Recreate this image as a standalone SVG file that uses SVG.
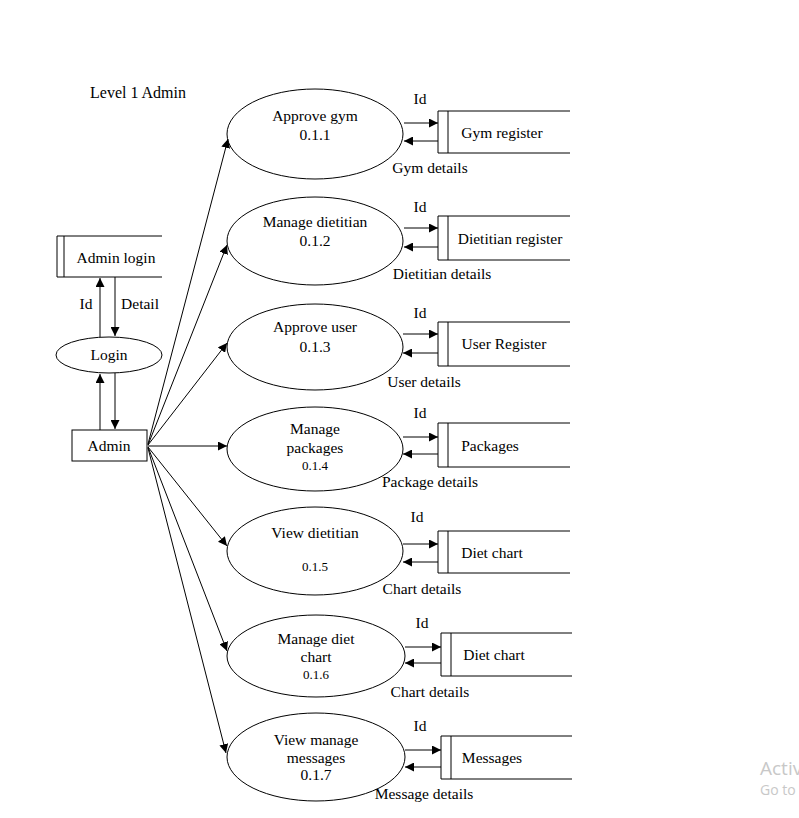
<svg xmlns="http://www.w3.org/2000/svg" width="799" height="818" viewBox="0 0 799 818">
<style>
text{font-family:"Liberation Serif","Times New Roman",serif;font-size:15.5px;fill:#000;text-anchor:middle}
.sm{font-size:13px}
.proc{fill:#fff;stroke:#000;stroke-width:1}
.st{fill:none;stroke:#000;stroke-width:1}
.c{stroke:#000;stroke-width:1;fill:none;marker-end:url(#ah)}
.wm{font-family:"Segoe UI","Open Sans","Noto Sans",sans-serif;fill:#c8c8c8;text-anchor:start}
</style>
<defs>
<marker id="ah" viewBox="0 0 10 10" refX="10" refY="5" markerWidth="9" markerHeight="9" markerUnits="userSpaceOnUse" orient="auto">
<path d="M0,0 L10,5 L0,10 z" fill="#000"/>
</marker>
</defs>
<rect width="799" height="818" fill="#fff"/>
<text x="138" y="98" style="font-size:16px">Level 1 Admin</text>

<g id="admin-login">
<path class="st" d="M162,236 H57 V277 H162 M64,236 V277"/>
<text x="116" y="263">Admin login</text>
</g>
<g id="login">
<ellipse class="proc" cx="109" cy="355" rx="53" ry="18"/>
<text x="109" y="360">Login</text>
</g>
<g id="admin">
<rect class="proc" x="72" y="430" width="75" height="31"/>
<text x="109" y="451">Admin</text>
</g>

<g id="p1">
<ellipse class="proc" cx="315" cy="134" rx="88" ry="45"/>
<text x="315" y="121">Approve gym</text>
<text x="315" y="140">0.1.1</text>
</g>
<g id="p2">
<ellipse class="proc" cx="315" cy="241" rx="88" ry="44"/>
<text x="315" y="227">Manage dietitian</text>
<text x="315" y="246">0.1.2</text>
</g>
<g id="p3">
<ellipse class="proc" cx="315" cy="347" rx="88" ry="43"/>
<text x="315" y="332">Approve user</text>
<text x="315" y="352">0.1.3</text>
</g>
<g id="p4">
<ellipse class="proc" cx="315" cy="449" rx="88" ry="42"/>
<text x="315" y="434">Manage</text>
<text x="315" y="453">packages</text>
<text class="sm" x="315" y="470">0.1.4</text>
</g>
<g id="p5">
<ellipse class="proc" cx="315" cy="551" rx="88" ry="44"/>
<text x="315" y="538">View dietitian</text>
<text class="sm" x="315" y="571">0.1.5</text>
</g>
<g id="p6">
<ellipse class="proc" cx="316" cy="656" rx="89" ry="41"/>
<text x="316" y="644">Manage diet</text>
<text x="316" y="662">chart</text>
<text class="sm" x="316" y="679">0.1.6</text>
</g>
<g id="p7">
<ellipse class="proc" cx="316" cy="757" rx="89" ry="44"/>
<text x="316" y="745">View manage</text>
<text x="316" y="763">messages</text>
<text x="316" y="780">0.1.7</text>
</g>

<g id="s1">
<path class="st" d="M570,111 H438 V153 H570 M448,111 V153"/>
<text x="502" y="138">Gym register</text>
</g>
<g id="s2">
<path class="st" d="M570,216 H438 V260 H570 M448,216 V260"/>
<text x="510" y="244">Dietitian register</text>
</g>
<g id="s3">
<path class="st" d="M570,322 H438 V366 H570 M448,322 V366"/>
<text x="504" y="349">User Register</text>
</g>
<g id="s4">
<path class="st" d="M570,423 H438 V467 H570 M448,423 V467"/>
<text x="490" y="451">Packages</text>
</g>
<g id="s5">
<path class="st" d="M570,531 H438 V573 H570 M448,531 V573"/>
<text x="492" y="558">Diet chart</text>
</g>
<g id="s6">
<path class="st" d="M572,633 H441 V676 H572 M451,633 V676"/>
<text x="494" y="660">Diet chart</text>
</g>
<g id="s7">
<path class="st" d="M572,736 H441 V779 H572 M451,736 V779"/>
<text x="492" y="763">Messages</text>
</g>

<g id="connectors">
<line class="c" x1="100" y1="337" x2="100" y2="278"/>
<line class="c" x1="115" y1="277" x2="115" y2="336"/>
<line class="c" x1="100" y1="430" x2="100" y2="374"/>
<line class="c" x1="115" y1="373" x2="115" y2="429"/>

<line class="c" x1="148" y1="444" x2="228" y2="139"/>
<line class="c" x1="148" y1="445" x2="227" y2="245"/>
<line class="c" x1="148" y1="445" x2="227" y2="343"/>
<line class="c" x1="148" y1="446" x2="227" y2="446"/>
<line class="c" x1="148" y1="447" x2="227" y2="546"/>
<line class="c" x1="148" y1="447" x2="227" y2="651"/>
<line class="c" x1="148" y1="448" x2="226" y2="753"/>

<line class="c" x1="404" y1="123" x2="438" y2="123"/>
<line class="c" x1="438" y1="141" x2="404" y2="141"/>
<line class="c" x1="404" y1="228" x2="438" y2="228"/>
<line class="c" x1="438" y1="247" x2="404" y2="247"/>
<line class="c" x1="403" y1="334" x2="438" y2="334"/>
<line class="c" x1="438" y1="353" x2="403" y2="353"/>
<line class="c" x1="403" y1="437" x2="438" y2="437"/>
<line class="c" x1="438" y1="454" x2="403" y2="454"/>
<line class="c" x1="403" y1="544" x2="438" y2="544"/>
<line class="c" x1="438" y1="562" x2="403" y2="562"/>
<line class="c" x1="405" y1="647" x2="441" y2="647"/>
<line class="c" x1="441" y1="663" x2="405" y2="663"/>
<line class="c" x1="405" y1="750" x2="441" y2="750"/>
<line class="c" x1="441" y1="767" x2="405" y2="767"/>

<text x="86" y="309">Id</text>
<text x="140" y="309">Detail</text>
<text x="420" y="104">Id</text>
<text x="430" y="173">Gym details</text>
<text x="420" y="212">Id</text>
<text x="442" y="279">Dietitian details</text>
<text x="420" y="318">Id</text>
<text x="424" y="387">User details</text>
<text x="420" y="418">Id</text>
<text x="430" y="487">Package details</text>
<text x="417" y="522">Id</text>
<text x="422" y="594">Chart details</text>
<text x="422" y="628">Id</text>
<text x="430" y="697">Chart details</text>
<text x="420" y="731">Id</text>
<text x="424" y="799">Message details</text>
</g>

<text class="wm" x="760" y="775" style="font-size:19px">Activ</text>
<text class="wm" x="760" y="795" style="font-size:14px">Go to</text>
</svg>
